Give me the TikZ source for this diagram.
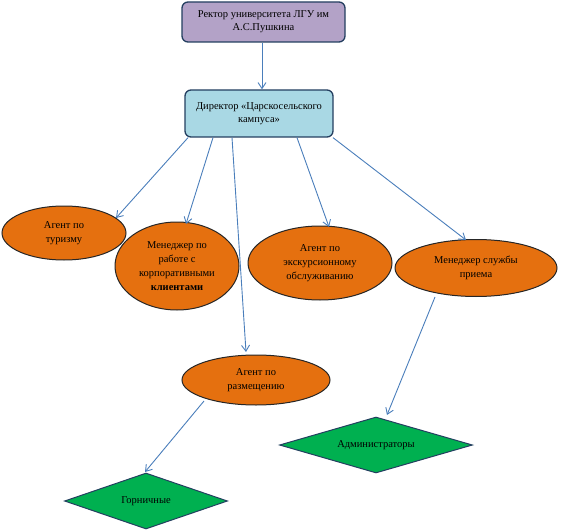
\documentclass[tikz,border=0pt]{standalone}
\usepackage{fontspec}
\setmainfont{Liberation Serif}
\usetikzlibrary{shapes.geometric,arrows.meta}
\definecolor{lav}{HTML}{B3A2C7}
\definecolor{lblue}{HTML}{A9D8E4}
\definecolor{orng}{HTML}{E5700F}
\definecolor{grn}{HTML}{00B050}
\definecolor{navy}{HTML}{243F60}
\definecolor{arr}{HTML}{4A7EBB}
\tikzset{
  box/.style={draw=navy, line width=1.3pt, rounded corners=6pt, inner sep=0pt, align=center, font=\fontsize{10.5}{13}\selectfont},
  oval/.style={ellipse, draw=black!85, line width=1pt, fill=orng, inner sep=0pt, align=center, font=\fontsize{10.5}{14}\selectfont},
  dia/.style={diamond, aspect=3.4, draw=navy, line width=1pt, fill=grn, inner sep=0pt, font=\fontsize{10.5}{13}\selectfont},
  link/.style={draw=arr, line width=0.9pt, -{Straight Barb[length=6pt,width=8pt]}}
}
\begin{document}
\begin{tikzpicture}[x=1pt,y=-1pt]
\useasboundingbox (0,0) rectangle (562,532);
\node[box, fill=lav, minimum width=163pt, minimum height=40pt] (rector) at (263.5,22) {Ректор университета ЛГУ им\\А.С.Пушкина};
\node[box, fill=lblue, minimum width=148pt, minimum height=47pt] (dir) at (259,113.5) {Директор «Царскосельского\\кампуса»};
\node[oval, minimum width=124pt, minimum height=54pt] (tur) at (64,233) {Агент по\\туризму};
\node[oval, minimum width=124pt, minimum height=88pt] (corp) at (177,266) {Менеджер по\\работе с\\корпоративными\\\textbf{клиентами}};
\node[oval, minimum width=144pt, minimum height=74pt] (exc) at (320,263) {Агент по\\экскурсионному\\обслуживанию};
\node[oval, minimum width=162pt, minimum height=57pt] (prm) at (476,268) {Менеджер службы\\приема};
\node[oval, minimum width=148pt, minimum height=50pt] (razm) at (256,380) {Агент по\\размещению};
\node[dia, minimum width=193pt, minimum height=56pt] (adm) at (376,445) {Администраторы};
\node[dia, minimum width=163pt, minimum height=56pt] (gor) at (146,501) {Горничные};
\draw[link] (rector.south -| 262,0) -- (dir.north -| 262,0);
\draw[link] (dir.south -| 188,0) -- (116,218);
\draw[link] (dir.south -| 213,0) -- (186,224);
\draw[link] (dir.south -| 232,0) -- (246,352);
\draw[link] (dir.south -| 297,0) -- (329,227);
\draw[link] (dir.south -| 333,0) -- (466,240);
\draw[link] (prm.south -| 435,0) -- (387,415);
\draw[link] (204,401) -- (145,472);
\end{tikzpicture}
\end{document}
